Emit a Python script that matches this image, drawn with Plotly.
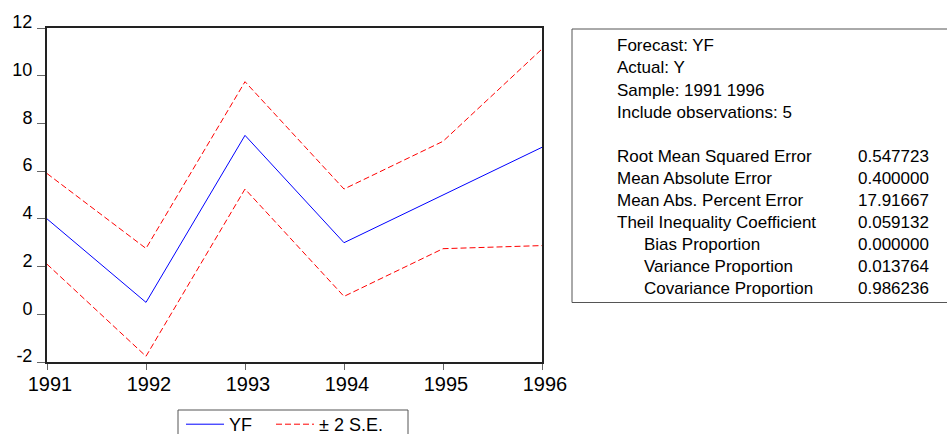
import plotly.graph_objects as go

# Forecast path and its two-standard-error band
years = [1991, 1992, 1993, 1994, 1995, 1996]
yf = [4.0, 0.5, 7.5, 3.0, 5.0, 7.0]
se_upper = [5.9, 2.76, 9.75, 5.25, 7.25, 11.12]
se_lower = [2.1, -1.76, 5.25, 0.75, 2.75, 2.88]

y_ticks = [-2, 0, 2, 4, 6, 8, 10, 12]
y_tick_labels = ["-2", "0", "2", "4", "6", "8", "10", "12"]

# Forecast evaluation summary
header_lines = [
    "Forecast: YF",
    "Actual: Y",
    "Sample: 1991 1996",
    "Include observations: 5",
]
stat_names = [
    "Root Mean Squared Error",
    "Mean Absolute Error",
    "Mean Abs. Percent Error",
    "Theil Inequality Coefficient",
    "Bias Proportion",
    "Variance Proportion",
    "Covariance Proportion",
]
stat_indented = [False, False, False, False, True, True, True]
stat_values = ["0.547723", "0.400000", "17.91667", "0.059132",
               "0.000000", "0.013764", "0.986236"]

W, H = 947, 434
M_L, M_R, M_T, M_B = 47, 405, 28, 72
plot_w = W - M_L - M_R
plot_h = H - M_T - M_B


def px_x(px):
    return (px - M_L) / plot_w


def px_y(py):
    return (H - M_B - py) / plot_h


FONT = "Liberation Sans, Arial, sans-serif"
RED_DASH = "6px,3px"

fig = go.Figure()
fig.add_trace(go.Scatter(
    x=years, y=yf, mode="lines", name="YF", legend="legend",
    line=dict(color="#0000ff", width=1),
))
fig.add_trace(go.Scatter(
    x=years, y=se_upper, mode="lines", name="± 2 S.E.", legend="legend2",
    legendgroup="se", line=dict(color="#ff0000", width=1, dash=RED_DASH),
))
fig.add_trace(go.Scatter(
    x=years, y=se_lower, mode="lines", name="± 2 S.E.", legend="legend2",
    legendgroup="se", showlegend=False,
    line=dict(color="#ff0000", width=1, dash=RED_DASH),
))

shapes = [
    # summary box to the right of the chart
    dict(type="rect", xref="paper", yref="paper",
         x0=px_x(572), x1=px_x(949), y0=px_y(302.5), y1=px_y(29),
         line=dict(color="#555555", width=1), fillcolor="rgba(0,0,0,0)"),
    # frame around the two legend entries
    dict(type="rect", xref="paper", yref="paper",
         x0=px_x(178), x1=px_x(408), y0=px_y(445), y1=px_y(410),
         line=dict(color="#555555", width=1), fillcolor="rgba(0,0,0,0)"),
]

rows = [(t, False, None) for t in header_lines] + [None] + \
    list(zip(stat_names, stat_indented, stat_values))
annotations = []
for i, row in enumerate(rows):
    if row is None:
        continue
    label, indented, value = row
    baseline = 52 + 22 * i
    yc = px_y(baseline - 6)
    annotations.append(dict(
        xref="paper", yref="paper", x=px_x(642 if indented else 615), y=yc,
        xanchor="left", yanchor="middle", text=label, showarrow=False,
        font=dict(family=FONT, size=17, color="#000000"),
    ))
    if value is not None:
        annotations.append(dict(
            xref="paper", yref="paper", x=px_x(856), y=yc,
            xanchor="left", yanchor="middle", text=value, showarrow=False,
            font=dict(family=FONT, size=17, color="#000000"),
        ))

legend_common = dict(
    orientation="h", xanchor="left", yanchor="top",
    borderwidth=0, bgcolor="rgba(0,0,0,0)",
    font=dict(family=FONT, size=18, color="#000000"),
    itemwidth=38,
)

fig.update_layout(
    width=W, height=H,
    margin=dict(l=M_L, r=M_R, t=M_T, b=M_B, autoexpand=False),
    paper_bgcolor="white", plot_bgcolor="white",
    font=dict(family=FONT, color="#000000"),
    annotations=annotations,
    shapes=shapes,
    showlegend=True,
    legend=dict(x=px_x(181), y=px_y(406), **legend_common),
    legend2=dict(x=px_x(271), y=px_y(406), **legend_common),
)

fig.update_xaxes(
    range=[1991, 1996], tickvals=years, ticktext=[str(y) for y in years],
    showgrid=False, zeroline=False,
    showline=True, linecolor="#222222", linewidth=2, mirror=True,
    ticks="outside", ticklen=6, tickcolor="#666666", tickwidth=1,
    tickfont=dict(family=FONT, size=20, color="#000000"),
    ticklabelshift=3, ticklabelstandoff=-3,
)
fig.update_yaxes(
    range=[-2, 12], tickvals=y_ticks, ticktext=y_tick_labels,
    showgrid=False, zeroline=False,
    showline=True, linecolor="#222222", linewidth=2, mirror=True,
    ticks="outside", ticklen=8, tickcolor="#666666", tickwidth=1,
    tickfont=dict(family=FONT, size=18, color="#000000"),
    ticklabelshift=-6, ticklabelstandoff=1,
)

fig.write_html("out.html")
